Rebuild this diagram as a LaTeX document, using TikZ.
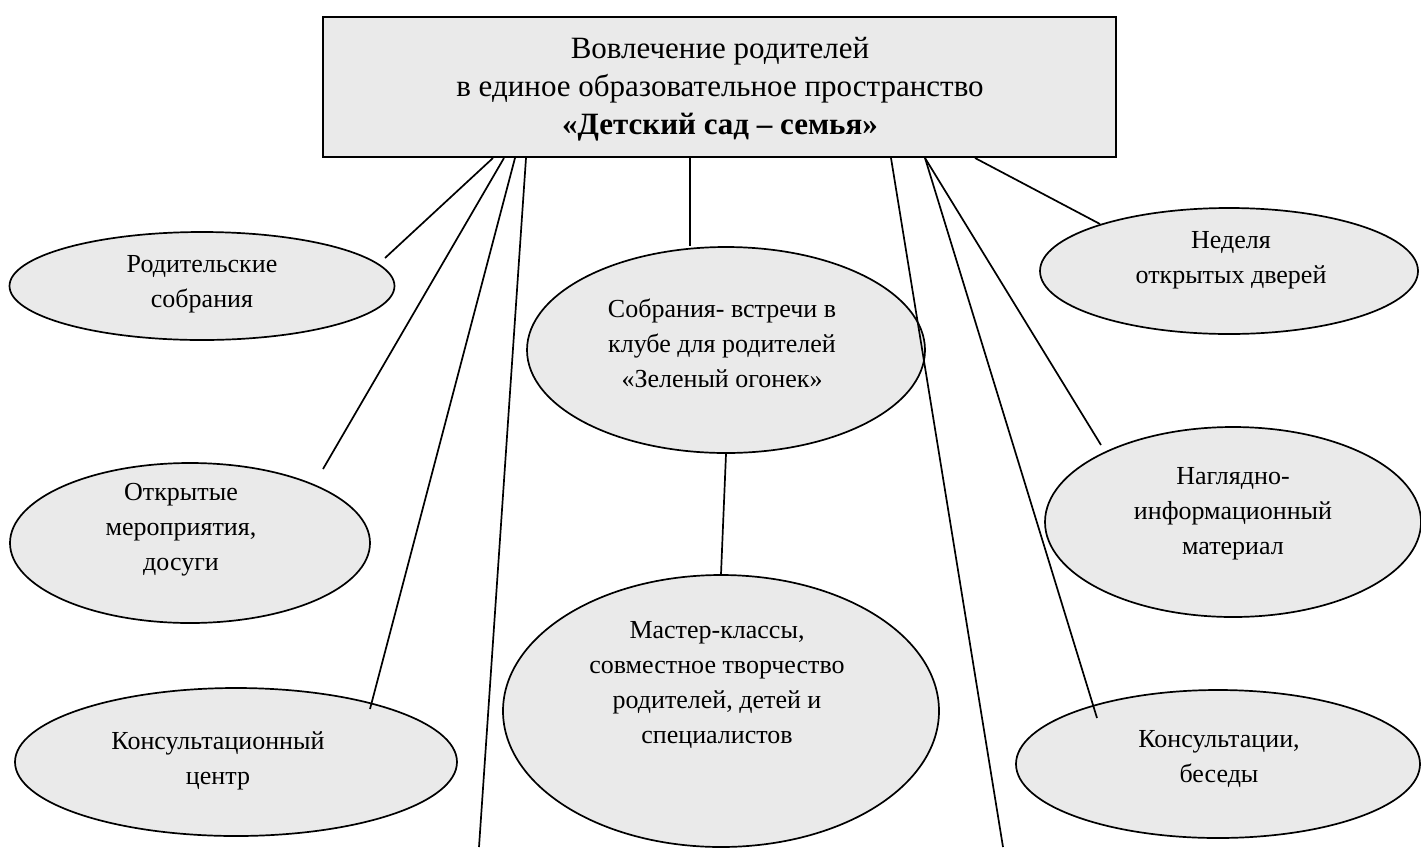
\documentclass[tikz,border=0pt]{standalone}
\usepackage{fontspec}
\setmainfont{Liberation Serif}
\usetikzlibrary{shapes.geometric}
\definecolor{boxgray}{RGB}{234,234,234}
\tikzset{
  oval/.style={ellipse, draw=black, line width=1.7pt, fill=boxgray, inner sep=0pt},
  otext/.style={align=center, font=\fontsize{26}{35}\selectfont, inner sep=0pt},
  ttext/.style={align=center, font=\fontsize{31}{38}\selectfont, inner sep=0pt},
  topbox/.style={draw=black, line width=2.2pt, fill=boxgray, inner sep=0pt},
  conn/.style={line width=1.7pt, black}
}
\begin{document}
\begin{tikzpicture}[x=1pt,y=-1pt]
\useasboundingbox (0,0) rectangle (1421,847);
% top box
\node[topbox, minimum width=793pt, minimum height=140pt] (top) at (719.5,87) {};
\node[ttext] (title) at (720,89) {Вовлечение родителей\\в единое образовательное пространство\\\textbf{«Детский сад – семья»}};
% ellipses
\node[oval, minimum width=385pt, minimum height=108pt] (e1) at (202,286) {};
\node[oval, minimum width=360pt, minimum height=160pt] (e2) at (190,543) {};
\node[oval, minimum width=442pt, minimum height=148pt] (e3) at (236,762) {};
\node[oval, minimum width=398pt, minimum height=206pt] (e4) at (726,350) {};
\node[oval, minimum width=436pt, minimum height=272pt] (e5) at (721,711) {};
\node[oval, minimum width=378pt, minimum height=126pt] (e6) at (1229,271) {};
\node[oval, minimum width=376pt, minimum height=190pt] (e7) at (1233,522) {};
\node[oval, minimum width=404pt, minimum height=148pt] (e8) at (1218,764) {};
% texts
\node[otext] (t1) at (202,284) {Родительские\\собрания};
\node[otext] (t2) at (181,530) {Открытые\\мероприятия,\\досуги};
\node[otext] (t3) at (218,761) {Консультационный\\центр};
\node[otext] (t4) at (722,343) {Собрания- встречи в\\клубе для родителей\\«Зеленый огонек»};
\node[otext] (t5) at (717,685) {Мастер-классы,\\совместное творчество\\родителей, детей и\\специалистов};
\node[otext] (t6) at (1231,260) {Неделя\\открытых дверей};
\node[otext] (t7) at (1233,514) {Наглядно-\\информационный\\материал};
\node[otext] (t8) at (1219,759) {Консультации,\\беседы};
% connector end points
\coordinate (s1) at (493,158);
\coordinate (s2) at (504,158);
\coordinate (s3) at (515,158);
\coordinate (s4) at (526,158);
\coordinate (s5) at (690,158);
\coordinate (s6) at (891,158);
\coordinate (s7) at (925,158);
\coordinate (s8) at (975,158);
\coordinate (f1) at (385,258);
\coordinate (f2) at (323,469);
\coordinate (f3) at (370,709);
\coordinate (f4) at (479,847);
\coordinate (f5) at (690,246);
\coordinate (f6) at (1003,847);
\coordinate (f7) at (1101,445);
\coordinate (f8) at (1097,718);
\coordinate (f9) at (1100,224);
\draw[conn] (s1) -- (f1);
\draw[conn] (s2) -- (f2);
\draw[conn] (s3) -- (f3);
\draw[conn] (s4) -- (f4);
\draw[conn] (s5) -- (f5);
\draw[conn] (s6) -- (f6);
\draw[conn] (s7) -- (f7);
\draw[conn] (s7) -- (f8);
\draw[conn] (s8) -- (f9);
\draw[conn] (e4.south) -- (e5.north);
\end{tikzpicture}
\end{document}
